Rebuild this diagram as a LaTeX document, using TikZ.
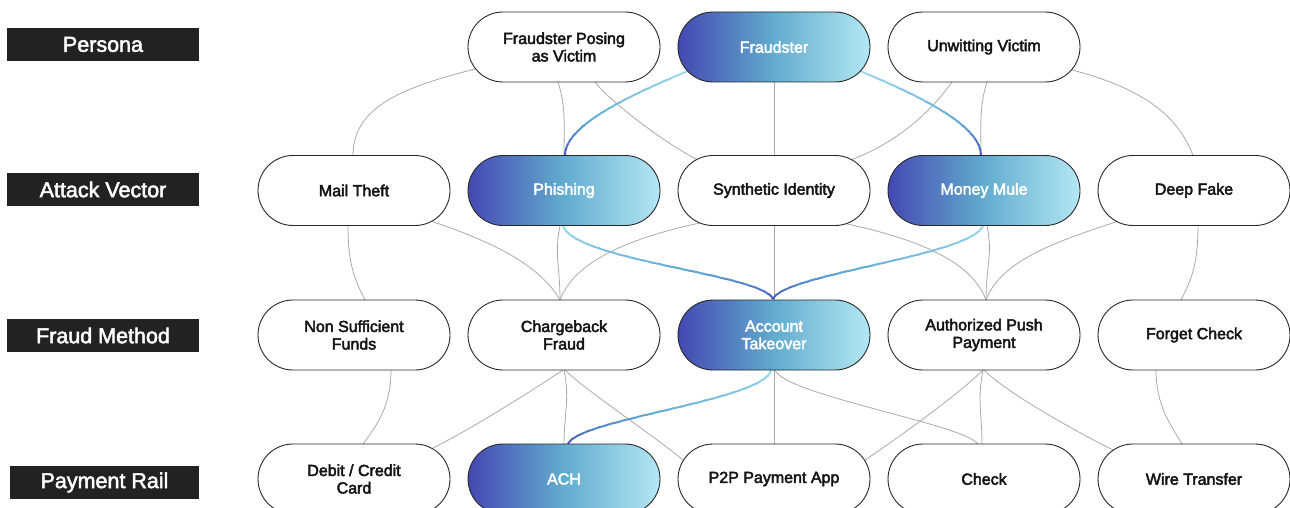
\documentclass[tikz,border=0pt]{standalone}
\usepackage{fontspec}
\setmainfont{Liberation Sans}
\newcommand\heavyink[1]{\special{pdf:literal direct 2 Tr #1 w}}
\newcommand\plainink{\special{pdf:literal direct 0 Tr}}
\usetikzlibrary{calc}
\pgfdeclarelayer{bg}
\pgfsetlayers{bg,main}
\definecolor{gL}{RGB}{180,231,245}
\definecolor{gM}{RGB}{98,172,206}
\definecolor{gD}{RGB}{68,72,178}
\definecolor{cL}{RGB}{165,220,240}
\definecolor{cM}{RGB}{96,172,214}
\definecolor{cD}{RGB}{70,80,188}
\definecolor{edgegray}{RGB}{170,170,170}
\definecolor{rim}{RGB}{40,40,40}
\definecolor{tagbg}{RGB}{34,34,34}
\tikzset{
  pill/.style={draw=rim, line width=0.9pt, rounded corners=35pt, minimum width=192pt,
    minimum height=70pt, inner sep=0pt, align=center,
    font={\fontsize{16}{17.5}\selectfont\heavyink{0.45}},
    execute at end node={\plainink}},
  plain/.style={pill, fill=white, text=black!92},
  hot/.style={pill, left color=gD, right color=gL, middle color=gM, text=white},
  tag/.style={fill=tagbg, text=white, minimum width=192pt, minimum height=33pt, inner sep=0pt,
    font={\fontsize{21.5}{22}\selectfont\heavyink{0.5}},
    execute at end node={\plainink}},
  link/.style={draw=edgegray, line width=0.8pt},
  hotline/.style={draw=hc, line width=1.9pt},
}
\newcommand\hotlink[3]{%
  \foreach \k in {0,...,19}{%
    \pgfmathsetmacro\ya{#1+(#2-#1)*\k/20}%
    \pgfmathsetmacro\yb{#1+(#2-#1)*(\k+1)/20+0.4}%
    \pgfmathtruncatemacro\fr{(\k+0.5)*5}%
    \ifnum\fr<60\relax
      \pgfmathtruncatemacro\pc{\fr*100/60}%
      \colorlet{hc}{cM!\pc!cL}%
    \else
      \pgfmathtruncatemacro\pc{(\fr-60)*100/40}%
      \colorlet{hc}{cD!\pc!cM}%
    \fi
    \begin{scope}
      \clip (0,\ya) rectangle (1290,\yb);
      \draw[hotline] #3;
    \end{scope}
  }%
}
\begin{document}
\begin{tikzpicture}[x=1pt,y=-1pt]
\useasboundingbox (0,0) rectangle (1290,508);
\begin{pgfonlayer}{bg}
\fill[white] (0,0) rectangle (1290,508);
\end{pgfonlayer}
% tags
\node[tag] (t1) at (103,44.5) {Persona};
\node[tag] (t2) at (103,189.5) {Attack Vector};
\node[tag] (t3) at (103,335.5) {Fraud Method};
\node[tag, minimum width=189pt] (t4) at (104.5,482.5) {Payment Rail};
% row 1
\node[plain] (fpv) at (564,47) {Fraudster Posing\\as Victim};
\node[hot] (fr) at (774,47) {Fraudster};
\node[plain] (uv) at (984,47) {Unwitting Victim};
% row 2
\node[plain] (mt) at (354,190.5) {Mail Theft};
\node[hot] (ph) at (564,190.5) {Phishing};
\node[plain] (syn) at (774,190.5) {Synthetic Identity};
\node[hot] (mm) at (984,190.5) {Money Mule};
\node[plain] (df) at (1194,190.5) {Deep Fake};
% row 3
\node[plain] (nsf) at (354,335) {Non Sufficient\\Funds};
\node[plain] (cb) at (564,335) {Chargeback\\Fraud};
\node[hot] (ato) at (774,335) {Account\\Takeover};
\node[plain] (app) at (984,335) {Authorized Push\\Payment};
\node[plain] (fc) at (1194,335) {Forget Check};
% row 4
\node[plain] (dc) at (354,479) {Debit / Credit\\Card};
\node[hot] (ach) at (564,479) {ACH};
\node[plain] (p2p) at (774,479) {P2P Payment App};
\node[plain] (chk) at (984,479) {Check};
\node[plain] (wt) at (1194,479) {Wire Transfer};

\begin{pgfonlayer}{bg}
% row1 -> row2
\draw[link] ([shift={(-89,22)}]fpv.center) .. controls +(-70,18) and +(0,-50) .. ([shift={(-1,-35)}]mt.center);
\draw[link] ([shift={(-6,35)}]fpv.center) .. controls +(8,25) and +(0,-30) .. ([shift={(0,-35)}]ph.center);
\draw[link] ([shift={(31,35)}]fpv.center) .. controls +(15,20) and +(-30,-15) .. ([shift={(-77,-31)}]syn.center);
\draw[link] (fr.south) -- (syn.north);
\draw[link] ([shift={(-32,35)}]uv.center) .. controls +(-25,35) and +(40,-15) .. ([shift={(78,-31)}]syn.center);
\draw[link] ([shift={(3,35)}]uv.center) .. controls +(-8,25) and +(0,-30) .. ([shift={(-3,-35)}]mm.center);
\draw[link] ([shift={(88,23)}]uv.center) .. controls +(70,18) and +(-15,-40) .. ([shift={(-1,-35)}]df.center);
% row2 -> row3
\draw[link] ([shift={(-6,35)}]mt.center) .. controls +(0,40) and +(-10,-20) .. ([shift={(11,-35)}]nsf.center);
\draw[link] ([shift={(78,31)}]mt.center) .. controls +(60,20) and +(-20,-35) .. ([shift={(-4,-35)}]cb.center);
\draw[link] ([shift={(-4,35)}]ph.center) .. controls +(-6,30) and +(0,-35) .. ([shift={(-4,-35)}]cb.center);
\draw[link] ([shift={(-72,32)}]syn.center) .. controls +(-70,15) and +(15,-40) .. ([shift={(-4,-35)}]cb.center);
\draw[link] (syn.south) -- (ato.north);
\draw[link] ([shift={(71,33)}]syn.center) .. controls +(70,15) and +(-15,-40) .. ([shift={(2,-35)}]app.center);
\draw[link] ([shift={(3,35)}]mm.center) .. controls +(6,30) and +(0,-35) .. ([shift={(2,-35)}]app.center);
\draw[link] ([shift={(-77,31)}]df.center) .. controls +(-60,20) and +(15,-40) .. ([shift={(2,-35)}]app.center);
\draw[link] ([shift={(4,35)}]df.center) .. controls +(0,40) and +(10,-20) .. ([shift={(-13,-35)}]fc.center);
% row3 -> row4
\draw[link] ([shift={(37,35)}]nsf.center) .. controls +(0,35) and +(15,-20) .. ([shift={(9,-35)}]dc.center);
\draw[link] ([shift={(-1,35)}]cb.center) .. controls +(-30,20) and +(40,-20) .. ([shift={(79,-31)}]dc.center);
\draw[link] ([shift={(0,35)}]cb.center) .. controls +(6,30) and +(0,-30) .. ([shift={(0,-35)}]ach.center);
\draw[link] ([shift={(1,35)}]cb.center) .. controls +(20,20) and +(-30,-25) .. ([shift={(-91,-19)}]p2p.center);
\draw[link] (ato.south) -- (p2p.north);
\draw[link] ([shift={(1,35)}]ato.center) .. controls +(10,25) and +(-15,-20) .. ([shift={(-6,-35)}]chk.center);
\draw[link] ([shift={(-1,35)}]app.center) .. controls +(-25,25) and +(30,-20) .. ([shift={(91,-19)}]p2p.center);
\draw[link] ([shift={(-1,35)}]app.center) .. controls +(-6,30) and +(0,-30) .. ([shift={(-2,-35)}]chk.center);
\draw[link] ([shift={(0,35)}]app.center) .. controls +(25,25) and +(-30,-15) .. ([shift={(-81,-29)}]wt.center);
\draw[link] ([shift={(-38,35)}]fc.center) .. controls +(0,35) and +(-12,-20) .. ([shift={(-12,-35)}]wt.center);
% highlighted path
\hotlink{66}{158}{([shift={(-86,24)}]fr.center) .. controls +(-60,25) and +(0,-30) .. ([shift={(1,-35)}]ph.center)}
\hotlink{66}{158}{([shift={(86,24)}]fr.center) .. controls +(60,25) and +(0,-30) .. ([shift={(-3,-35)}]mm.center)}
\hotlink{224}{302}{([shift={(-1,35)}]ph.center) .. controls +(10,35) and +(-10,-25) .. ([shift={(-1,-36)}]ato.center)}
\hotlink{224}{302}{([shift={(-1,35)}]mm.center) .. controls +(-10,30) and +(10,-25) .. ([shift={(-1,-36)}]ato.center)}
\hotlink{368}{446}{([shift={(-3,35)}]ato.center) .. controls +(-5,30) and +(10,-25) .. ([shift={(4,-35)}]ach.center)}
\end{pgfonlayer}
\end{tikzpicture}
\end{document}
